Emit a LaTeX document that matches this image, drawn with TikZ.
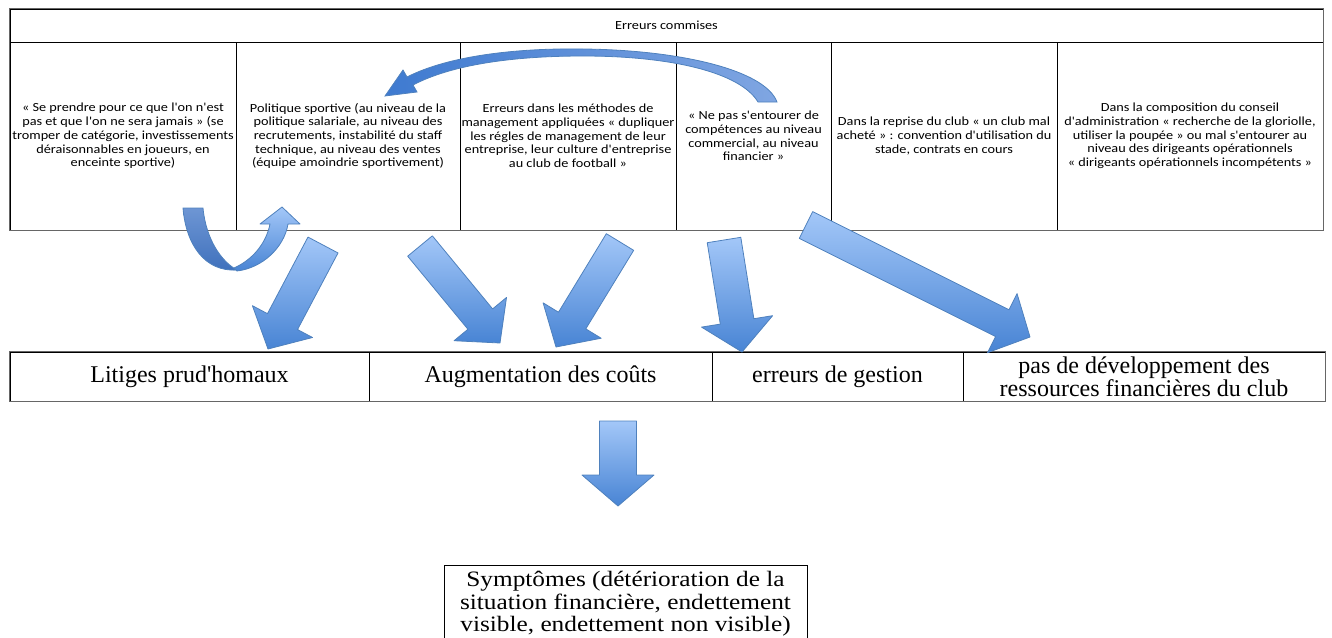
\documentclass[tikz,border=0pt]{standalone}
\usepackage{fontspec}
\setmainfont{Liberation Serif}
\newfontfamily\cellfont[FakeStretch=1.15]{Carlito}
\newfontfamily\symfont[FakeStretch=1.15]{Liberation Serif}
\usetikzlibrary{calc}
\definecolor{arrowlight}{RGB}{163,199,248}
\definecolor{arrowdark}{RGB}{72,132,212}
\definecolor{arrowline}{RGB}{79,129,189}
\definecolor{backlight}{RGB}{110,150,212}
\definecolor{backdark}{RGB}{62,112,188}
\definecolor{curvedark}{RGB}{62,122,208}
\definecolor{curvelight}{RGB}{128,166,226}

\begin{document}
\begin{tikzpicture}[x=1pt,y=-1pt,
	cell/.style={draw=black, line width=0.8pt, inner sep=0pt},
	frame/.style={draw=black!60, line width=1.4pt},
	celltext/.style={font=\cellfont\fontsize{12.4}{13.7}\selectfont, align=center, inner sep=0pt},
	boxtext/.style={font=\fontsize{24}{21}\selectfont, align=center, inner sep=0pt},
	blockarrow/.style={draw=arrowline, line width=0.8pt, line join=round, top color=arrowlight, bottom color=arrowdark}]
		\useasboundingbox (0,0) rectangle (1332,637);
		% top table
		\node[cell, minimum width=1313, minimum height=33] (hdr) at (666.5,25.5) {};
		\node[cell, minimum width=226, minimum height=188] (c1) at (123,136) {};
		\node[cell, minimum width=224, minimum height=188] (c2) at (348,136) {};
		\node[cell, minimum width=216, minimum height=188] (c3) at (568,136) {};
		\node[cell, minimum width=155, minimum height=188] (c4) at (753.5,136) {};
		\node[cell, minimum width=226, minimum height=188] (c5) at (944,136) {};
		\node[cell, minimum width=266, minimum height=188] (c6) at (1190,136) {};
		\draw[frame] (hdr.north west) rectangle (c6.south east);
		\node[celltext] (hdrtext) at (hdr) {Erreurs commises};
		\node[celltext] (c1text) at (c1) {« Se prendre pour ce que l'on n'est\\pas et que l'on ne sera jamais » (se\\tromper de catégorie, investissements\\déraisonnables en joueurs, en\\enceinte sportive)};
		\node[celltext] (c2text) at (c2) {Politique sportive (au niveau de la\\politique salariale, au niveau des\\recrutements, instabilité du staff\\technique, au niveau des ventes\\(équipe amoindrie sportivement)};
		\node[celltext] (c3text) at (c3) {Erreurs dans les méthodes de\\management appliquées « dupliquer\\les régles de management de leur\\entreprise, leur culture d'entreprise\\au club de football »};
		\node[celltext] (c4text) at (c4) {« Ne pas s'entourer de\\compétences au niveau\\commercial, au niveau\\financier »};
		\node[celltext] (c5text) at (c5) {Dans la reprise du club « un club mal\\acheté » : convention d'utilisation du\\stade, contrats en cours};
		\node[celltext] (c6text) at (c6) {Dans la composition du conseil\\d'administration « recherche de la gloriolle,\\utiliser la poupée » ou mal s'entourer au\\niveau des dirigeants opérationnels\\« dirigeants opérationnels incompétents »};
		% bottom table
		\node[cell, minimum width=359, minimum height=49] (b1) at (189.5,376.5) {};
		\node[cell, minimum width=343, minimum height=49] (b2) at (540.5,376.5) {};
		\node[cell, minimum width=251, minimum height=49] (b3) at (837.5,376.5) {};
		\node[cell, minimum width=362, minimum height=49] (b4) at (1144,376.5) {};
		\draw[frame] (b1.north west) rectangle (b4.south east);
		\node[boxtext] (b1text) at (b1) {Litiges prud\textquotesingle homaux};
		\node[boxtext] (b2text) at (b2) {Augmentation des coûts};
		\node[boxtext] (b3text) at (b3) {erreurs de gestion};
		\node[boxtext] (b4text) at (b4) {pas de développement des\\ressources financières du club};
		% symptoms
		\node[cell, minimum width=363, minimum height=77] (sym) at (625.5,604) {};
		\node[font=\symfont\fontsize{22}{22.5}\selectfont, align=center, inner sep=0pt] (symtext) at (625.5,604) {Symptômes (détérioration de la\\situation financière, endettement\\visible, endettement non visible)};
		% straight block arrows
		\foreach \n/\tx/\ty/\hx/\hy/\sw/\hw in {1/323/245/268/349/17/34, 2/420/246/500/343/16/34, 3/620/242/556/347/16/34, 4/724/240/742/352/17/36, 5/806/225/1030/337/15/33, 6/618/421/618/506/18.5/36}{
			\coordinate (t\n) at (\tx,\ty);
			\coordinate (h\n) at (\hx,\hy);
			\coordinate (m\n) at ($(h\n)!31pt!(t\n)$);
			\path[blockarrow] ($(t\n)!\sw pt!90:(h\n)$) -- ($(m\n)!\sw pt!90:(h\n)$) -- ($(m\n)!\hw pt!90:(h\n)$) -- (h\n) -- ($(m\n)!\hw pt!-90:(h\n)$) -- ($(m\n)!\sw pt!-90:(h\n)$) -- ($(t\n)!\sw pt!-90:(h\n)$) -- cycle;
		}
		% u-turn arrow
		\path[draw=arrowline, line width=0.8pt, top color=backlight, bottom color=backdark] (183,208) -- (203,208) .. controls (206,240) and (222,262) .. (237,270) .. controls (205,272) and (186,245) .. (183,208) -- cycle;
		\path[blockarrow, top color=arrowlight, bottom color=arrowdark] (237,271) .. controls (262,268) and (284,248) .. (288,224) -- (300,224) -- (282,207) -- (260,224) -- (270,224) .. controls (266,244) and (252,260) .. (234,268) -- cycle;
		% curved arrow over the cells
		\path[draw=arrowline, line width=0.8pt, left color=curvedark, right color=curvelight] (407,77) .. controls (450,55) and (520,48) .. (583,49) .. controls (680,50) and (765,70) .. (777,102) -- (758,102) .. controls (740,72) and (670,56) .. (583,56) .. controls (520,56) and (455,63) .. (413,85) -- (417,92) -- (385,96) -- (403,70) -- cycle;
	\end{tikzpicture}
\end{document}
